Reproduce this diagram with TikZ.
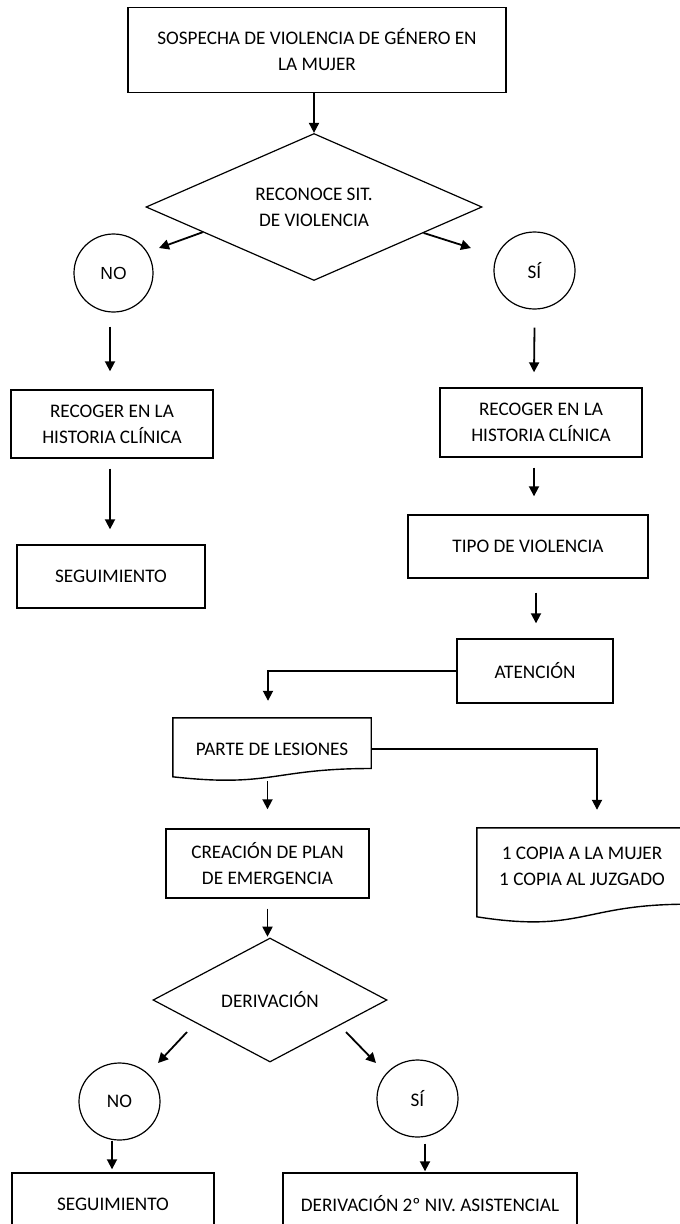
\documentclass[tikz,border=0pt]{standalone}
\usepackage{fontspec}
\setmainfont{Carlito}
\newfontfamily\arialf{Liberation Sans}
\usetikzlibrary{shapes.geometric,arrows.meta,calc}
\begin{document}
\begin{tikzpicture}[x=1pt,y=-1pt,
  every node/.style={font=\fontsize{19.2}{26}\selectfont},
  box/.style={draw, line width=1.4pt, align=center, inner sep=0pt},
  docnode/.style={align=center, inner sep=0pt},
  docline/.style={line width=1.4pt},
  circ/.style={draw, ellipse, line width=1.2pt, inner sep=0pt, minimum width=81pt, minimum height=77pt},
  dia/.style={draw, diamond, line width=1.2pt, inner sep=0pt, shape aspect=2.3, align=center},
  arr/.style={line width=1.8pt, -{Triangle[length=10pt,width=10pt]}}
]
\useasboundingbox (0,0) rectangle (680,1224);
\clip (0,0) rectangle (680,1224);
\fill[white] (0,0) rectangle (680,1224);

% nodes
\node[box, minimum width=378pt, minimum height=85pt] (top) at (317,50) {SOSPECHA DE VIOLENCIA DE GÉNERO EN\\LA MUJER};
\node[dia, minimum width=336pt, minimum height=147pt] (d1) at (314,207) {RECONOCE SIT.\\DE VIOLENCIA};
\node[circ, minimum width=79pt, minimum height=78pt, font=\arialf\fontsize{17.5}{20}\selectfont] (no1) at (113.5,273) {NO};
\node[circ] (si1) at (534.5,270.5) {SÍ};
\node[box, minimum width=202pt, minimum height=68pt] (rec1) at (112,424) {RECOGER EN LA\\HISTORIA CLÍNICA};
\node[box, minimum width=188pt, minimum height=63pt] (seg1) at (111,576.5) {SEGUIMIENTO};
\node[box, minimum width=202pt, minimum height=69pt] (rec2) at (541,422.5) {RECOGER EN LA\\HISTORIA CLÍNICA};
\node[box, minimum width=240pt, minimum height=63pt] (tipo) at (528,546.5) {TIPO DE VIOLENCIA};
\node[box, minimum width=156pt, minimum height=64pt] (aten) at (535,671) {ATENCIÓN};
\node[docnode, minimum width=198pt, minimum height=62pt] (parte) at (272,749) {PARTE DE LESIONES};
\node[docnode, minimum width=210pt, minimum height=76pt] (copia) at (582,866) {1 COPIA A LA MUJER\\1 COPIA AL JUZGADO};
\node[box, minimum width=203pt, minimum height=69pt] (crea) at (267.5,863.5) {CREACIÓN DE PLAN\\DE EMERGENCIA};
\node[dia, minimum width=234pt, minimum height=124pt] (d2) at (270,1000) {DERIVACIÓN};
\node[circ] (no2) at (119.5,1101.5) {NO};
\node[circ] (si2) at (417.5,1098.5) {SÍ};
\node[box, minimum width=202pt, minimum height=62pt] (seg2) at (113,1204) {SEGUIMIENTO};
\node[box, minimum width=294pt, minimum height=62pt] (der2) at (430,1204) {DERIVACIÓN 2º NIV. ASISTENCIAL};

% document shapes
\draw[docline] (parte.north west) -- (parte.north east) -- ($(parte.north east)+(0,50.7)$)
  .. controls ($(parte.north)+(0,50.7)$) and ($(parte.north)+(0,70)$) .. ($(parte.north west)+(0,59)$) -- cycle;
\draw[docline] (copia.north west) -- (copia.north east) -- ($(copia.north east)+(0,76.4)$)
  .. controls ($(copia.north)+(0,76.4)$) and ($(copia.north)+(0,105.5)$) .. ($(copia.north west)+(0,89)$) -- cycle;

% connectors
\draw[arr] (d1.north |- top.south) -- (d1.north);
\draw[arr] ($(d1.west)!0.34!(d1.south)$) -- ($(no1.center)+(45.5,-25)$);
\draw[arr] ($(d1.east)!0.35!(d1.south)$) -- ($(si1.center)+(-63.5,-22.5)$);
\draw[arr] ($(no1.south)+(-3.5,14)$) -- ($(rec1.north)+(-2,-18)$);
\draw[arr] ($(rec1.south)+(-2,10)$) -- ($(seg1.north)+(-1,-15)$);
\draw[arr] ($(si1.south)+(0,18)$) -- ($(rec2.north)+(-7,-15)$);
\draw[arr] ($(rec2.south)+(-7,10)$) -- ($(tipo.north)+(6,-18)$);
\draw[arr] ($(tipo.south)+(8,14)$) -- ($(aten.north)+(1,-15)$);
\draw[arr] (aten.west) -| ($(parte.north)+(-4,-17)$);
\draw[arr] (parte.east) -| ($(copia.north)+(15,-18)$);
\draw[arr] ($(parte.south)+(-4.5,1)$) -- ($(crea.north)+(0,-19)$);
\draw[arr] ($(crea.south)+(0,10)$) -- ($(crea.south)+(0,38)$);
\draw[arr] ($(d2.center)+(-83,32)$) -- ($(no2.center)+(38.5,-38.5)$);
\draw[arr] ($(d2.center)+(76,32)$) -- ($(si2.center)+(-41.5,-35.5)$);
\draw[arr] ($(no2.south)+(-7.5,0)$) -- ($(seg2.north)+(-1,-3)$);
\draw[arr] ($(si2.south)+(7.5,6)$) -- ($(der2.north)+(-5,-1)$);
\end{tikzpicture}
\end{document}
